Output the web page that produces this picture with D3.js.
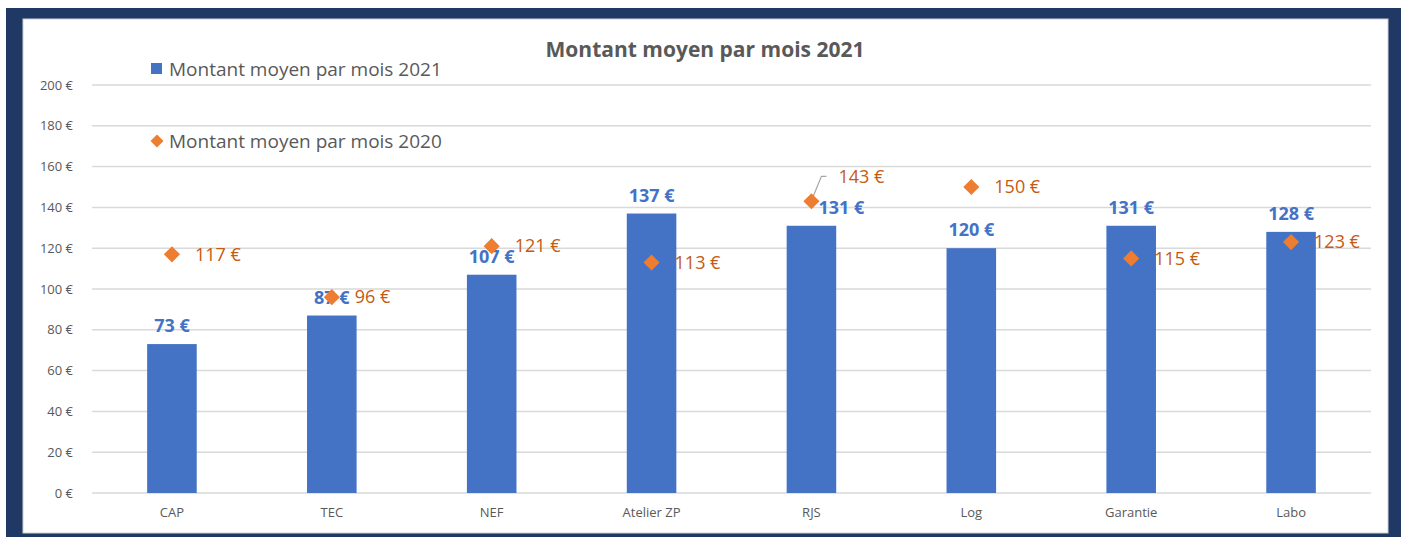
<!DOCTYPE html>
<html>
<head>
<meta charset="utf-8">
<script src="https://cdn.jsdelivr.net/npm/d3@7"></script>
<style>
  body { margin: 0; background: #ffffff; }
  text { font-family: "Open Sans", Lato, sans-serif; }
</style>
</head>
<body>
<div id="grafico"></div>
<script>
// Données
const categories = ['CAP', 'TEC', 'NEF', 'Atelier ZP', 'RJS', 'Log', 'Garantie', 'Labo'];
const montant2021 = [73, 87, 107, 137, 131, 120, 131, 128];
const montant2020 = [117, 96, 121, 113, 143, 150, 115, 123];
const ticksY = [0, 20, 40, 60, 80, 100, 120, 140, 160, 180, 200];

const largura = 1407;
const altura = 537;
const zone = { left: 92, right: 1371, top: 85, bottom: 493 };

const bleu = '#4472C4';
const orange = '#ED7D31';
const orangeTexte = '#C55A11';
const gris = '#595959';

const euro = (v) => `${v} €`;

const svg = d3
  .select('#grafico')
  .append('svg')
  .attr('width', largura)
  .attr('height', altura);

// Cadre bleu foncé + panneau blanc
svg.append('rect').attr('x', 0).attr('y', 0).attr('width', largura).attr('height', altura).attr('fill', '#fff');
svg.append('rect').attr('x', 6).attr('y', 8).attr('width', 1395).attr('height', 529).attr('fill', '#203864');
svg
  .append('rect')
  .attr('x', 23)
  .attr('y', 19)
  .attr('width', 1365)
  .attr('height', 514)
  .attr('fill', '#fff')
  .attr('stroke', '#d0d0d0');

// Echelles
const x = d3.scaleBand().domain(categories).range([zone.left, zone.right]).padding(0);
const y = d3.scaleLinear().domain([0, 200]).range([zone.bottom, zone.top]);
const largeurBarre = x.bandwidth() * 0.31;

// Grille
svg
  .append('g')
  .selectAll('line')
  .data(ticksY)
  .enter()
  .append('line')
  .attr('x1', zone.left)
  .attr('x2', zone.right)
  .attr('y1', (d) => y(d))
  .attr('y2', (d) => y(d))
  .attr('stroke', '#d9d9d9')
  .attr('stroke-width', 1.5);

// Axe Y
const axeY = svg
  .append('g')
  .attr('transform', `translate(${zone.left - 16},0)`)
  .call(d3.axisLeft(y).tickValues(ticksY).tickFormat(euro).tickSize(0));
axeY.select('.domain').remove();
axeY.selectAll('text').attr('fill', gris).style('font-size', '13px').style('font-family', '"Open Sans", sans-serif');

// Axe X
const axeX = svg
  .append('g')
  .attr('transform', `translate(0,${zone.bottom})`)
  .call(d3.axisBottom(x).tickSize(0).tickPadding(15));
axeX.select('.domain').remove();
axeX.selectAll('text').attr('fill', gris).style('font-size', '13px').style('font-family', '"Open Sans", sans-serif');

// Barres 2021
svg
  .selectAll('.barre')
  .data(categories)
  .enter()
  .append('rect')
  .attr('class', 'barre')
  .attr('x', (d) => x(d) + (x.bandwidth() - largeurBarre) / 2)
  .attr('y', (d, i) => y(montant2021[i]))
  .attr('width', largeurBarre)
  .attr('height', (d, i) => y(0) - y(montant2021[i]))
  .attr('fill', bleu);

// Décalages des étiquettes (en px)
const decalage2021 = [0, 0, 0, 0, 30, 0, 0, 0];
const decalage2020 = [[0, 0], [0, 0], [0, 0], [0, 0], [4, -25], [0, 0], [0, 0], [0, 0]];

const centre = (d) => x(d) + x.bandwidth() / 2;

// Étiquettes 2021
svg
  .selectAll('.rotulo2021')
  .data(categories)
  .enter()
  .append('text')
  .attr('class', 'rotulo2021')
  .attr('x', (d, i) => centre(d) + decalage2021[i])
  .attr('y', (d, i) => y(montant2021[i]) - 12)
  .attr('text-anchor', 'middle')
  .attr('fill', bleu)
  .style('font-size', '18px')
  .style('font-weight', 'bold')
  .text((d, i) => euro(montant2021[i]));

// Trait de rappel (RJS)
categories.forEach((c, i) => {
  const [dx, dy] = decalage2020[i];
  if (dy !== 0) {
    const cx = centre(c);
    const cy = y(montant2020[i]);
    svg
      .append('path')
      .attr('d', `M${cx + 1},${cy - 3}L${cx + 10},${cy + dy}L${cx + 15},${cy + dy}`)
      .attr('fill', 'none')
      .attr('stroke', '#a6a6a6')
      .attr('stroke-width', 1.2);
  }
});

// Points 2020 (losanges)
svg
  .selectAll('.ponto')
  .data(categories)
  .enter()
  .append('path')
  .attr('class', 'ponto')
  .attr('d', d3.symbol().type(d3.symbolSquare).size(130))
  .attr('transform', (d, i) => `translate(${centre(d)},${y(montant2020[i])}) rotate(45)`)
  .attr('fill', orange);

// Étiquettes 2020
svg
  .selectAll('.rotulo2020')
  .data(categories)
  .enter()
  .append('text')
  .attr('class', 'rotulo2020')
  .attr('x', (d, i) => centre(d) + 23 + decalage2020[i][0])
  .attr('y', (d, i) => y(montant2020[i]) + decalage2020[i][1])
  .attr('dy', '0.35em')
  .attr('fill', orangeTexte)
  .style('font-size', '18px')
  .text((d, i) => euro(montant2020[i]));

// Titre
svg
  .append('text')
  .attr('x', 705)
  .attr('y', 57)
  .attr('text-anchor', 'middle')
  .attr('fill', gris)
  .style('font-size', '21px')
  .style('font-weight', 'bold')
  .text('Montant moyen par mois 2021');

// Légende
const legende = svg.append('g');
legende.append('rect').attr('x', 151).attr('y', 63).attr('width', 11).attr('height', 11).attr('fill', bleu);
legende
  .append('text')
  .attr('x', 169)
  .attr('y', 69)
  .attr('dy', '0.35em')
  .attr('fill', gris)
  .style('font-size', '19px')
  .text('Montant moyen par mois 2021');
legende
  .append('path')
  .attr('d', d3.symbol().type(d3.symbolSquare).size(85))
  .attr('transform', 'translate(157,141) rotate(45)')
  .attr('fill', orange);
legende
  .append('text')
  .attr('x', 169)
  .attr('y', 141)
  .attr('dy', '0.35em')
  .attr('fill', gris)
  .style('font-size', '19px')
  .text('Montant moyen par mois 2020');
</script>
</body>
</html>
